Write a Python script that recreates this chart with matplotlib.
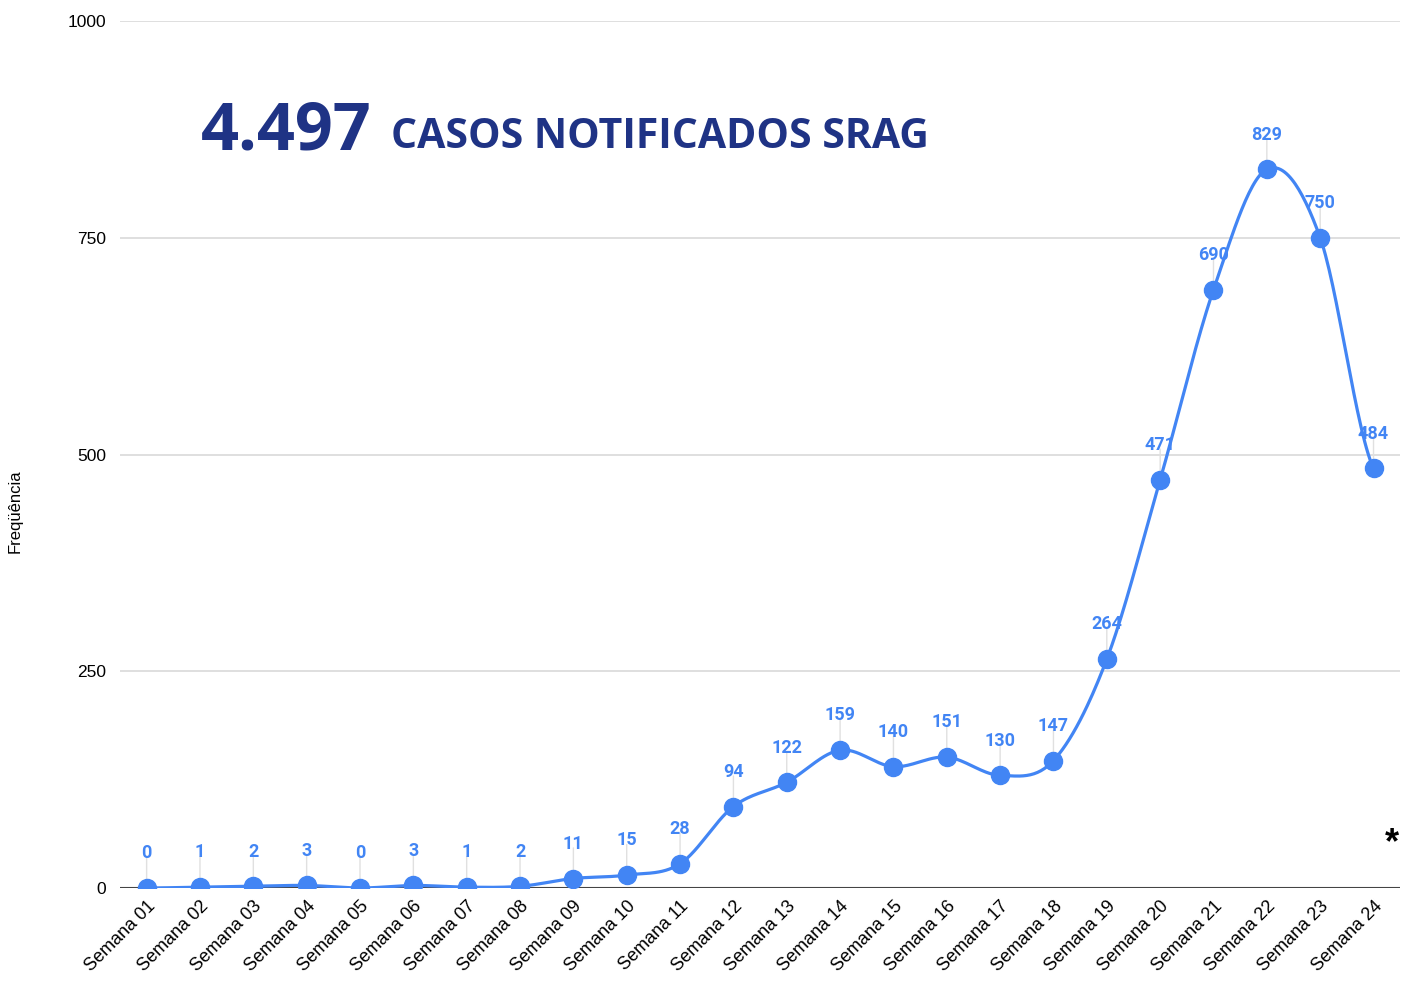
import numpy as np
import matplotlib.pyplot as plt

semanas = ['Semana %02d' % i for i in range(1, 25)]
casos = [0, 1, 2, 3, 0, 3, 1, 2, 11, 15, 28, 94, 122, 159, 140, 151, 130, 147,
         264, 471, 690, 829, 750, 484]
total_txt = '4.497'
titulo_txt = 'CASOS NOTIFICADOS SRAG'
azul = '#4285F4'
azul_escuro = '#1F3385'


def catmull_rom(y, n=30):
    # curva suave passando pelos pontos (como o curveType do Google Charts)
    y = np.asarray(y, dtype=float)
    p = np.concatenate([[y[0]], y, [y[-1]]])
    xs, ys = [], []
    for i in range(len(y) - 1):
        t = np.linspace(0, 1, n, endpoint=False)
        p0, p1, p2, p3 = p[i], p[i + 1], p[i + 2], p[i + 3]
        yy = 0.5 * ((2 * p1) + (-p0 + p2) * t + (2 * p0 - 5 * p1 + 4 * p2 - p3) * t ** 2
                    + (-p0 + 3 * p1 - 3 * p2 + p3) * t ** 3)
        xs.append(i + t)
        ys.append(yy)
    xs.append([len(y) - 1])
    ys.append([y[-1]])
    return np.concatenate(xs), np.concatenate(ys)


plt.rcParams['font.family'] = ['Liberation Sans', 'DejaVu Sans']

fig = plt.figure(figsize=(14.03, 9.83), dpi=100)
ax = fig.add_axes([0.0855, 0.0966, 0.9125, 0.882])

x = np.arange(len(casos))
cx, cy = catmull_rom(casos)
ax.plot(cx, cy, color=azul, lw=2.3, zorder=3, solid_capstyle='round')
ax.plot(x, casos, 'o', color=azul, ms=13, zorder=4)

for xi, v in zip(x, casos):
    ax.annotate('', xy=(xi, v), xytext=(0, 22), textcoords='offset points',
                xycoords='data',
                arrowprops=dict(arrowstyle='-', color='#e0e0e0', lw=1, shrinkA=0, shrinkB=6))
    ax.annotate(str(v), xy=(xi, v), xytext=(0, 25), textcoords='offset points',
                ha='center', va='center', color=azul, fontsize=13,
                fontweight='bold', family='Roboto', zorder=5)

ax.set_xlim(-0.5, 23.5)
ax.set_ylim(0, 1000)
ax.set_yticks([0, 250, 500, 750, 1000])
ax.set_xticks(x)
ax.set_xticklabels(semanas, rotation=45, ha='right', rotation_mode='anchor', fontsize=13)
ax.tick_params(axis='y', labelsize=12.5, length=0, pad=10)
ax.tick_params(axis='x', length=0, pad=7)
ax.grid(axis='y', color='#d9d9d9', lw=1.2)
ax.set_axisbelow(True)
for s in ax.spines.values():
    s.set_visible(False)
ax.axhline(0, color='#444444', lw=1.5, zorder=2)

fig.text(0.011, 0.48, 'Freqüência', rotation=90, ha='center', va='center', fontsize=12)

fig.text(0.143, 0.866, total_txt, fontsize=48, fontweight='bold', color=azul_escuro,
         family='Open Sans', va='center')
fig.text(0.279, 0.86, titulo_txt, fontsize=29.5, fontweight='bold', color=azul_escuro,
         family='Open Sans', va='center')

fig.text(0.992, 0.142, '*', fontsize=26, fontweight='bold', color='black', ha='center', va='center')

fig.savefig('out.png', dpi=100)
